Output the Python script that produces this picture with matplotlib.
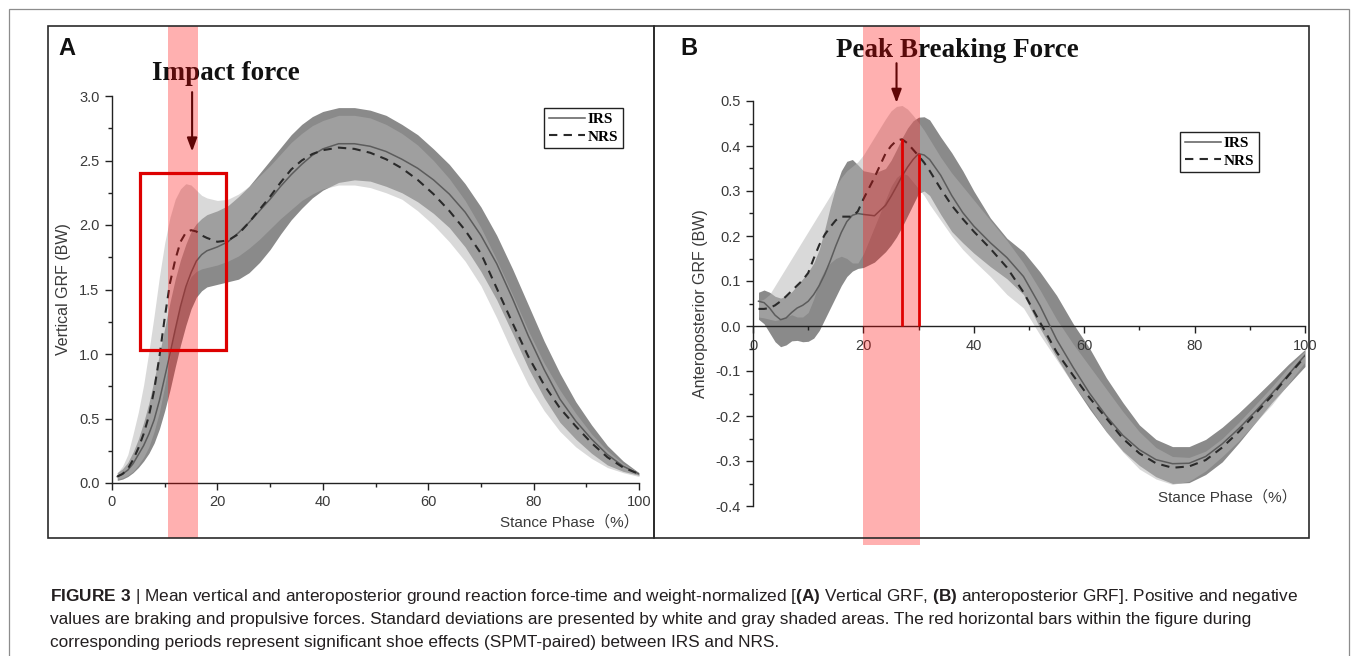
import matplotlib
matplotlib.use("Agg")
import matplotlib.pyplot as plt
import numpy as np
from matplotlib.patches import Rectangle
from matplotlib.ticker import MultipleLocator

plt.rcParams['font.family'] = ['Liberation Sans', 'Noto Sans CJK SC', 'DejaVu Sans']
plt.rcParams['mathtext.fontset'] = 'custom'
plt.rcParams['mathtext.rm'] = 'Liberation Sans'
plt.rcParams['mathtext.bf'] = 'Liberation Sans:bold'

W, H = 1355, 656

# ---- panel A: vertical GRF (BW) over stance phase (%)
xa = [1, 2, 3, 4, 5, 6, 7, 8, 9, 10, 11, 12, 13, 14, 15, 16, 17, 18,
      20, 22, 24, 26, 28, 30, 32, 34, 36, 38, 40,
      43, 46, 49, 52, 55, 58, 61, 64, 67, 70, 73, 76, 79, 82, 85, 88, 91, 94, 97, 100]
irs_a = [0.05, 0.07, 0.10, 0.15, 0.22, 0.29, 0.38, 0.49, 0.64, 0.82, 1.00, 1.19, 1.37, 1.52, 1.63, 1.72, 1.77, 1.80,
         1.83, 1.87, 1.94, 2.02, 2.11, 2.20, 2.30, 2.39, 2.47, 2.54, 2.59,
         2.63, 2.63, 2.61, 2.57, 2.51, 2.44, 2.35, 2.24, 2.10, 1.92, 1.70, 1.43, 1.14, 0.88, 0.65, 0.48, 0.34, 0.22, 0.13, 0.07]
nrs_a = [0.05, 0.07, 0.11, 0.18, 0.27, 0.38, 0.52, 0.72, 0.98, 1.28, 1.55, 1.73, 1.87, 1.94, 1.96, 1.95, 1.92, 1.90,
         1.87, 1.88, 1.93, 2.02, 2.12, 2.22, 2.33, 2.43, 2.50, 2.55, 2.58,
         2.60, 2.59, 2.56, 2.51, 2.44, 2.35, 2.24, 2.11, 1.96, 1.78, 1.51, 1.24, 0.98, 0.76, 0.58, 0.44, 0.31, 0.20, 0.12, 0.07]
irs_a_hi = [0.08, 0.11, 0.16, 0.24, 0.34, 0.47, 0.62, 0.80, 1.00, 1.20, 1.40, 1.58, 1.73, 1.85, 1.95, 2.01, 2.05, 2.08,
            2.11, 2.15, 2.22, 2.30, 2.40, 2.50, 2.60, 2.70, 2.78, 2.84, 2.88,
            2.91, 2.91, 2.89, 2.85, 2.78, 2.70, 2.59, 2.47, 2.32, 2.14, 1.92, 1.66, 1.38, 1.10, 0.85, 0.63, 0.45, 0.29, 0.17, 0.08]
irs_a_lo = [0.02, 0.03, 0.05, 0.08, 0.12, 0.17, 0.23, 0.31, 0.42, 0.56, 0.72, 0.90, 1.07, 1.22, 1.35, 1.44, 1.49, 1.52,
            1.54, 1.56, 1.58, 1.63, 1.71, 1.81, 1.93, 2.04, 2.13, 2.21, 2.27,
            2.33, 2.35, 2.34, 2.30, 2.25, 2.18, 2.09, 1.98, 1.83, 1.64, 1.42, 1.16, 0.89, 0.66, 0.47, 0.34, 0.23, 0.14, 0.09, 0.06]
nrs_a_hi = [0.08, 0.13, 0.22, 0.38, 0.55, 0.76, 1.02, 1.30, 1.60, 1.86, 2.06, 2.20, 2.28, 2.32, 2.31, 2.27, 2.23, 2.21,
            2.19, 2.20, 2.24, 2.30, 2.38, 2.46, 2.55, 2.64, 2.71, 2.77, 2.81,
            2.85, 2.85, 2.83, 2.78, 2.71, 2.62, 2.50, 2.36, 2.19, 1.98, 1.73, 1.46, 1.18, 0.93, 0.72, 0.54, 0.38, 0.25, 0.15, 0.08]
nrs_a_lo = [0.03, 0.04, 0.06, 0.09, 0.14, 0.20, 0.28, 0.40, 0.55, 0.75, 0.98, 1.20, 1.38, 1.52, 1.60, 1.64, 1.66, 1.67,
            1.69, 1.72, 1.76, 1.82, 1.89, 1.97, 2.05, 2.12, 2.19, 2.24, 2.28,
            2.31, 2.31, 2.29, 2.25, 2.20, 2.11, 2.00, 1.87, 1.72, 1.53, 1.28, 1.01, 0.76, 0.56, 0.40, 0.28, 0.19, 0.12, 0.08, 0.05]

# ---- panel B: anteroposterior GRF (BW)
xb = [1, 2, 3, 4, 5, 6, 7, 8, 9, 10, 11, 12, 13, 14, 15, 16, 17, 18, 19, 20,
      22, 24, 25, 26, 27, 28, 29, 30, 31, 32, 34, 36, 38, 40,
      43, 46, 49, 52, 55, 58, 61, 64, 67, 70, 73, 76, 79, 82, 85, 88, 91, 94, 97, 100]
irs_b = [0.055, 0.052, 0.040, 0.024, 0.014, 0.018, 0.030, 0.040, 0.046, 0.055, 0.070, 0.090, 0.115, 0.145, 0.178, 0.208, 0.232, 0.246, 0.250, 0.248,
         0.245, 0.268, 0.288, 0.310, 0.333, 0.353, 0.370, 0.383, 0.380, 0.370, 0.335, 0.290, 0.252, 0.222,
         0.185, 0.152, 0.110, 0.045, -0.030, -0.092, -0.150, -0.200, -0.243, -0.275, -0.297, -0.306, -0.305, -0.290, -0.262, -0.228, -0.190, -0.150, -0.108, -0.065]
nrs_b = [0.038, 0.038, 0.040, 0.046, 0.055, 0.066, 0.078, 0.090, 0.102, 0.118, 0.150, 0.180, 0.203, 0.220, 0.235, 0.243, 0.243, 0.243, 0.255, 0.282,
         0.330, 0.383, 0.400, 0.412, 0.415, 0.406, 0.392, 0.378, 0.363, 0.345, 0.305, 0.268, 0.238, 0.210,
         0.172, 0.130, 0.075, 0.008, -0.058, -0.110, -0.160, -0.205, -0.250, -0.283, -0.305, -0.315, -0.312, -0.298, -0.270, -0.235, -0.195, -0.155, -0.110, -0.068]
irs_b_hi = [0.075, 0.080, 0.075, 0.066, 0.062, 0.066, 0.076, 0.090, 0.105, 0.120, 0.140, 0.170, 0.215, 0.265, 0.310, 0.345, 0.366, 0.370, 0.358, 0.345,
            0.340, 0.350, 0.368, 0.392, 0.418, 0.440, 0.456, 0.464, 0.465, 0.458, 0.420, 0.385, 0.345, 0.300,
            0.240, 0.195, 0.165, 0.120, 0.068, 0.005, -0.050, -0.115, -0.170, -0.220, -0.252, -0.268, -0.268, -0.252, -0.225, -0.193, -0.158, -0.122, -0.085, -0.052]
irs_b_lo = [0.015, 0.005, -0.015, -0.035, -0.046, -0.042, -0.033, -0.032, -0.035, -0.034, -0.027, -0.010, 0.015, 0.040, 0.065, 0.090, 0.110, 0.122, 0.128, 0.130,
            0.142, 0.165, 0.180, 0.198, 0.220, 0.245, 0.270, 0.295, 0.300, 0.290, 0.248, 0.210, 0.185, 0.162,
            0.132, 0.105, 0.070, -0.005, -0.070, -0.130, -0.185, -0.235, -0.278, -0.310, -0.335, -0.350, -0.348, -0.330, -0.302, -0.260, -0.215, -0.170, -0.130, -0.090]
nrs_b_hi = [0.055, 0.060, 0.070, 0.090, 0.110, 0.130, 0.150, 0.170, 0.190, 0.210, 0.230, 0.250, 0.270, 0.290, 0.310, 0.330, 0.345, 0.355, 0.365, 0.380,
            0.420, 0.460, 0.478, 0.488, 0.490, 0.482, 0.468, 0.452, 0.435, 0.415, 0.375, 0.340, 0.310, 0.280,
            0.235, 0.190, 0.140, 0.080, 0.015, -0.040, -0.090, -0.140, -0.190, -0.235, -0.270, -0.290, -0.292, -0.278, -0.250, -0.214, -0.175, -0.135, -0.092, -0.055]
nrs_b_lo = [0.020, 0.018, 0.015, 0.012, 0.015, 0.020, 0.025, 0.020, 0.020, 0.030, 0.060, 0.100, 0.125, 0.140, 0.150, 0.155, 0.150, 0.140, 0.140, 0.160,
            0.220, 0.280, 0.310, 0.330, 0.340, 0.335, 0.320, 0.305, 0.290, 0.270, 0.235, 0.200, 0.170, 0.145,
            0.110, 0.070, 0.040, -0.020, -0.075, -0.130, -0.180, -0.235, -0.280, -0.318, -0.340, -0.352, -0.345, -0.322, -0.290, -0.255, -0.215, -0.175, -0.128, -0.080]

# highlighted periods (stance %) and the impact-force box
span_a = [10.6, 16.3]
span_b = [20.0, 30.3]
box_a = [5.3, 1.03, 21.7, 2.40]  # x0, y0, x1, y1

caption = [
    r"$\mathbf{FIGURE\ 3}$ | Mean vertical and anteroposterior ground reaction force-time and weight-normalized "
    r"[$\mathbf{(A)}$ Vertical GRF, $\mathbf{(B)}$ anteroposterior GRF]. Positive and negative",
    "values are braking and propulsive forces. Standard deviations are presented by white and gray shaded areas. "
    "The red horizontal bars within the figure during",
    "corresponding periods represent significant shoe effects (SPMT-paired) between IRS and NRS.",
]

DARK = '#8a8a8a'
LIGHT = '#b4b4b4'
RED = '#ff0000'

fig = plt.figure(figsize=(W / 100, H / 100), dpi=100)


def fbox(x0, y0, x1, y1, **kw):
    # rectangle given in pixel coords (origin top-left)
    r = Rectangle((x0 / W, 1 - y1 / H), (x1 - x0) / W, (y1 - y0) / H,
                  transform=fig.transFigure, fill=False, **kw)
    fig.add_artist(r)


def style(ax, ymajor, yminor):
    for s in ('top', 'right'):
        ax.spines[s].set_visible(False)
    for s in ('left', 'bottom'):
        ax.spines[s].set_linewidth(1.0)
        ax.spines[s].set_color('#222222')
    ax.xaxis.set_major_locator(MultipleLocator(20))
    ax.xaxis.set_minor_locator(MultipleLocator(10))
    ax.yaxis.set_major_locator(MultipleLocator(ymajor))
    ax.yaxis.set_minor_locator(MultipleLocator(yminor))
    ax.tick_params(which='major', direction='out', length=5, width=1, labelsize=10.5,
                   labelcolor='#3a3a3a', color='#222222', pad=4)
    ax.tick_params(which='minor', direction='out', length=3, width=1, color='#222222')
    ax.set_xlim(0, 100)
    ax.set_facecolor('none')


def draw_curves(ax, x, ihi, ilo, nhi, nlo, irs, nrs):
    ax.fill_between(x, ilo, ihi, color=DARK, lw=0, zorder=1)
    ax.fill_between(x, nlo, nhi, color=LIGHT, alpha=0.5, lw=0, zorder=2)
    l1, = ax.plot(x, irs, color='#5c5c5c', lw=1.1, zorder=3, label='IRS')
    l2, = ax.plot(x, nrs, color='#2a2a2a', lw=1.5, ls=(0, (4, 3)), zorder=3, label='NRS')
    return l1, l2


def legend(ax, anchor):
    leg = ax.legend(loc='upper left', bbox_to_anchor=anchor, frameon=True, fancybox=False,
                    framealpha=1, edgecolor='#222222', handlelength=2.4, handletextpad=0.15,
                    borderpad=0.3, labelspacing=0.25, borderaxespad=0,
                    prop={'family': 'Liberation Serif', 'weight': 'bold', 'size': 11})
    leg.get_frame().set_linewidth(1.0)
    leg.set_zorder(6)


# ---------------- panel A
axA = fig.add_axes([112 / W, 1 - 483 / H, 527 / W, 387 / H])
style(axA, 0.5, 0.25)
axA.set_ylim(0, 3.0)
axA.yaxis.set_major_formatter(matplotlib.ticker.FormatStrFormatter('%.1f'))
draw_curves(axA, xa, irs_a_hi, irs_a_lo, nrs_a_hi, nrs_a_lo, irs_a, nrs_a)
legend(axA, ((544 - 112) / 527, (483 - 108) / 387))
axA.set_ylabel('Vertical GRF (BW)', fontsize=11.5, color='#3a3a3a', labelpad=6)
axA.text(1.0, -0.101, 'Stance Phase（%）', transform=axA.transAxes, ha='right', va='center',
         fontsize=11, color='#3a3a3a')
axA.axvspan(span_a[0], span_a[1], ymin=-0.142, ymax=1.181, color=RED, alpha=0.31, lw=0,
            zorder=10, clip_on=False)
axA.add_patch(Rectangle((box_a[0], box_a[1]), box_a[2] - box_a[0], box_a[3] - box_a[1],
                        fill=False, ec='#dd0000', lw=2.3, zorder=11))
axA.text(21.6, 3.124, 'Impact force', family='Liberation Serif', fontweight='bold', fontsize=19.5,
         ha='center', va='baseline', color='#111111', clip_on=False, zorder=4)
axA.annotate('', xy=(15.2, 2.57), xytext=(15.2, 3.03), annotation_clip=False, zorder=4,
             arrowprops=dict(arrowstyle='-|>,head_length=0.8,head_width=0.3', color='#1a0a0a',
                             lw=1.5, mutation_scale=10, shrinkA=0, shrinkB=0))

# ---------------- panel B
axB = fig.add_axes([753 / W, 1 - 506 / H, 552 / W, 405 / H])
style(axB, 0.1, 0.05)
axB.set_ylim(-0.4, 0.5)
axB.yaxis.set_major_formatter(matplotlib.ticker.FormatStrFormatter('%.1f'))
axB.spines['bottom'].set_position(('data', 0))
draw_curves(axB, xb, irs_b_hi, irs_b_lo, nrs_b_hi, nrs_b_lo, irs_b, nrs_b)
legend(axB, ((1180 - 753) / 552, (506 - 132) / 405))
axB.set_ylabel('Anteroposterior GRF (BW)', fontsize=11.5, color='#3a3a3a', labelpad=5)
axB.text(0.9855, 0.022, 'Stance Phase（%）', transform=axB.transAxes, ha='right', va='center',
         fontsize=11, color='#3a3a3a')
axB.axvspan(span_b[0], span_b[1], ymin=-0.096, ymax=1.185, color=RED, alpha=0.31, lw=0,
            zorder=10, clip_on=False)
# significant-difference markers at each mean curve's peak
ib = int(np.argmax(irs_b))
nb = int(np.argmax(nrs_b))
axB.vlines([xb[nb], xb[ib]], 0, [nrs_b[nb], irs_b[ib]], color='#e00000', lw=2.0, zorder=11)
axB.text(37.1, 0.598, 'Peak Breaking Force', family='Liberation Serif', fontweight='bold',
         fontsize=19.5, ha='center', va='baseline', color='#111111', clip_on=False, zorder=4)
axB.annotate('', xy=(26.0, 0.496), xytext=(26.0, 0.584), annotation_clip=False, zorder=4,
             arrowprops=dict(arrowstyle='-|>,head_length=0.8,head_width=0.3', color='#1a0a0a',
                             lw=1.5, mutation_scale=10, shrinkA=0, shrinkB=0))

# ---------------- panel letters, frames, caption
fig.text(58 / W, 1 - 55 / H, 'A', fontsize=17, fontweight='bold', va='baseline', color='#111111')
fig.text(680 / W, 1 - 55 / H, 'B', fontsize=17, fontweight='bold', va='baseline', color='#111111')

fbox(8.5, 9, 1348.5, 760, ec='#8c8c8c', lw=0.9)
fbox(48, 26, 654, 538, ec='#2a2a2a', lw=1.2)
fbox(654, 26, 1309, 538, ec='#2a2a2a', lw=1.2)

for i, line in enumerate(caption):
    fig.text(50 / W, 1 - (601 + 23 * i) / H, line, fontsize=12.4, va='baseline', ha='left',
             color='#231f20')

fig.savefig('out.png', dpi=100)
